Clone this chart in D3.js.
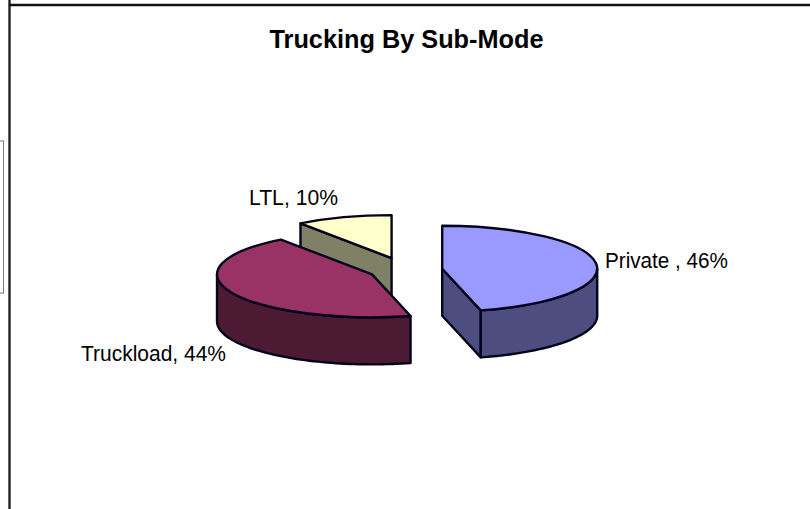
<!DOCTYPE html>
<html>
<head>
<meta charset="utf-8">
<script src="https://cdn.jsdelivr.net/npm/d3@7/dist/d3.min.js"></script>
<style>
  html, body { margin: 0; padding: 0; background: #fff; }
  svg { display: block; }
  text { font-family: "Liberation Sans", Arial, sans-serif; fill: #000; white-space: pre; }
</style>
</head>
<body>
<svg id="chart" width="810" height="509"></svg>
<script>
// Sub-mode shares, in percent, clockwise from twelve o'clock
const categories = ["Private ", "Truckload", "LTL"];
const shares = [46, 44, 10];
const topColors = ["#9999FF", "#993366", "#FFFFCC"];
const sideColors = ["#4D4D80", "#4D1A33", "#808066"];
const explosion = [37, 37, 45];
const chartTitle = "Trucking By Sub-Mode";

const W = 810, H = 509;
const svg = d3.select("#chart");
const outline = "#04041c";

// Window frame and the sliver of a neighbouring box on the left edge
svg.append("rect").attr("x", -1).attr("y", 141).attr("width", 4.5).attr("height", 152)
  .attr("fill", "#fff").attr("stroke", "#777").attr("stroke-width", 1);
svg.append("line").attr("x1", 9.5).attr("x2", 9.5).attr("y1", 0).attr("y2", H)
  .attr("stroke", "#222").attr("stroke-width", 2.4);
svg.append("line").attr("x1", 9).attr("x2", W).attr("y1", 5).attr("y2", 5)
  .attr("stroke", "#111").attr("stroke-width", 2.6);

// Pie projection: a flattened disc with a constant extrusion depth
const center = { x: 405.5, y: 270 };
const rx = 155, ry = 43, depth = 47;
const squash = ry / rx;

const pie = d3.pie().sort(null).value(d => d);
const slices = pie(shares);
const arcTop = d3.arc().innerRadius(0).outerRadius(rx);

// Ellipse coordinates for a pie angle measured clockwise from the top
const ex = a => rx * Math.sin(a);
const ey = a => -ry * Math.cos(a);

const wall = d3.area()
  .x(a => ex(a))
  .y0(a => ey(a))
  .y1(a => ey(a) + depth);

const order = [2, 1, 0]; // back slice first, front slices over it
order.forEach(i => {
  const s = slices[i];
  const mid = (s.startAngle + s.endAngle) / 2;
  const g = svg.append("g").attr("transform",
    `translate(${center.x + explosion[i] * Math.sin(mid)},${center.y - explosion[i] * squash * Math.cos(mid)})`);

  const style = sel => sel
    .attr("stroke", outline).attr("stroke-width", 2.4)
    .attr("stroke-linejoin", "round");

  // Cut faces that turn toward the viewer
  const cutFace = a => {
    const p = d3.path();
    p.moveTo(0, 0);
    p.lineTo(ex(a), ey(a));
    p.lineTo(ex(a), ey(a) + depth);
    p.lineTo(0, depth);
    p.closePath();
    g.append("path").attr("d", p.toString()).attr("fill", sideColors[i]).call(style);
  };
  if (Math.sin(s.startAngle) < -1e-6) cutFace(s.startAngle);
  if (Math.sin(s.endAngle) > 1e-6) cutFace(s.endAngle);

  // Outer rim, visible only on the lower half of the ellipse
  const a0 = Math.max(s.startAngle, Math.PI / 2);
  const a1 = Math.min(s.endAngle, 3 * Math.PI / 2);
  if (a1 > a0) {
    const step = d3.scaleLinear().domain([0, 60]).range([a0, a1]);
    g.append("path").attr("d", wall(d3.range(61).map(step)))
      .attr("fill", sideColors[i]).call(style);
  }

  // Top face
  g.append("path")
    .attr("d", arcTop({ startAngle: s.startAngle, endAngle: s.endAngle }))
    .attr("transform", `scale(1,${squash})`)
    .attr("fill", topColors[i])
    .call(style)
    .attr("vector-effect", "non-scaling-stroke");
});

// Title
svg.append("text").attr("x", 406.5).attr("y", 48)
  .attr("text-anchor", "middle").attr("font-size", 25).attr("font-weight", "bold")
  .attr("textLength", 274).attr("lengthAdjust", "spacingAndGlyphs")
  .text(chartTitle);

// Data labels, placed around the pie
const labelAnchors = [
  { x: 605, y: 268, len: 123 },
  { x: 81, y: 361, len: 145 },
  { x: 249, y: 205, len: 89 }
];
shares.forEach((v, i) => {
  svg.append("text")
    .attr("x", labelAnchors[i].x).attr("y", labelAnchors[i].y)
    .attr("font-size", 22)
    .attr("textLength", labelAnchors[i].len).attr("lengthAdjust", "spacingAndGlyphs")
    .text(`${categories[i]}, ${v}%`);
});
</script>
</body>
</html>
